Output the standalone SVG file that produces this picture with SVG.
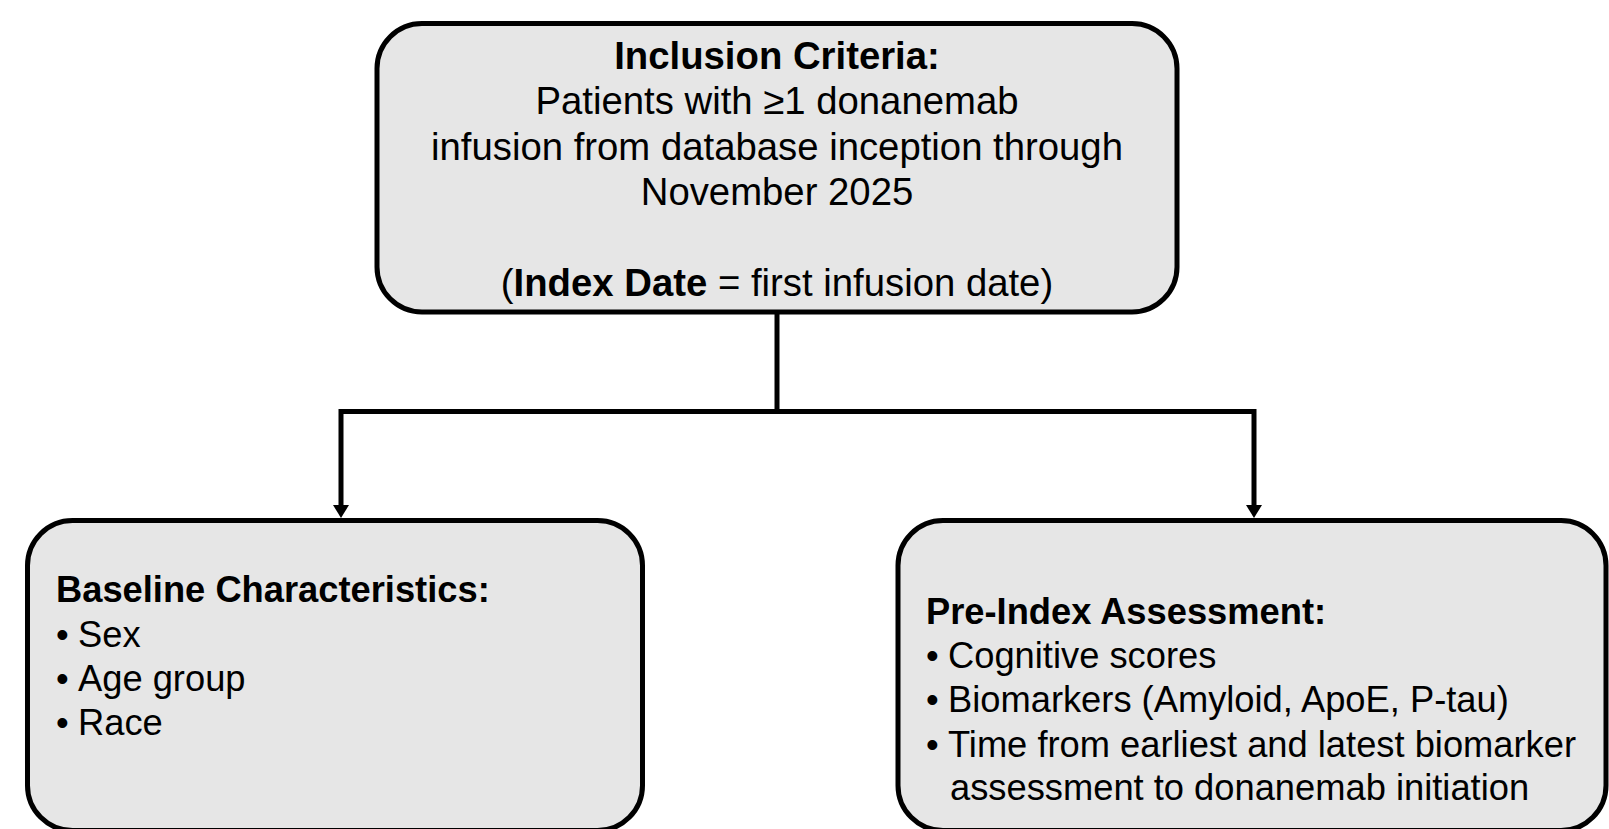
<svg xmlns="http://www.w3.org/2000/svg" width="1609" height="829" viewBox="0 0 1609 829">
  <style>
    .box { fill: #e6e6e6; stroke: #000; stroke-width: 5; }
    .wire { fill: none; stroke: #000; stroke-width: 5; stroke-linejoin: miter; }
    text { font-family: "Liberation Sans", Arial, sans-serif; fill: #000; }
    .top { font-size: 38.3px; text-anchor: middle; }
    .side { font-size: 36.3px; }
    .b { font-weight: bold; }
  </style>
  <defs>
    <marker id="head" viewBox="0 0 13 16" refX="2" refY="8" markerWidth="13" markerHeight="16" markerUnits="userSpaceOnUse" orient="auto">
      <path d="M0,0 L13,8 L0,16 z" fill="#000"/>
    </marker>
  </defs>

  <!-- connectors -->
  <g id="connectors">
    <path class="wire" d="M777,312 V411.5"/>
    <path class="wire" d="M779,411.5 H341 V507" marker-end="url(#head)"/>
    <path class="wire" d="M775,411.5 H1254 V507" marker-end="url(#head)"/>
  </g>

  <!-- inclusion criteria -->
  <g id="inclusion">
    <rect class="box" x="377" y="23.5" width="800" height="288.5" rx="45" ry="45"/>
    <text class="top b" x="777" y="69">Inclusion Criteria:</text>
    <text class="top" x="777" y="114">Patients with ≥1 donanemab</text>
    <text class="top" x="777" y="159.5">infusion from database inception through</text>
    <text class="top" x="777" y="205">November 2025</text>
    <text class="top" x="777" y="296">(<tspan class="b">Index Date</tspan> = first infusion date)</text>
  </g>

  <!-- baseline characteristics -->
  <g id="baseline">
    <rect class="box" x="27.5" y="520.5" width="615" height="310" rx="45" ry="45"/>
    <text class="side b" x="56" y="602">Baseline Characteristics:</text>
    <text class="side" y="646.5"><tspan x="56">•</tspan><tspan x="78">Sex</tspan></text>
    <text class="side" y="690.5"><tspan x="56">•</tspan><tspan x="78">Age group</tspan></text>
    <text class="side" y="734.5"><tspan x="56">•</tspan><tspan x="78">Race</tspan></text>
  </g>

  <!-- pre-index assessment -->
  <g id="preindex">
    <rect class="box" x="898" y="520.5" width="708" height="310" rx="45" ry="45"/>
    <text class="side b" x="926" y="624">Pre-Index Assessment:</text>
    <text class="side" y="668"><tspan x="926">•</tspan><tspan x="948">Cognitive scores</tspan></text>
    <text class="side" y="712"><tspan x="926">•</tspan><tspan x="948">Biomarkers (Amyloid, ApoE, P-tau)</tspan></text>
    <text class="side" y="756.5"><tspan x="926">•</tspan><tspan x="948">Time from earliest and latest biomarker</tspan></text>
    <text class="side" x="950" y="800">assessment to donanemab initiation</text>
  </g>
</svg>
